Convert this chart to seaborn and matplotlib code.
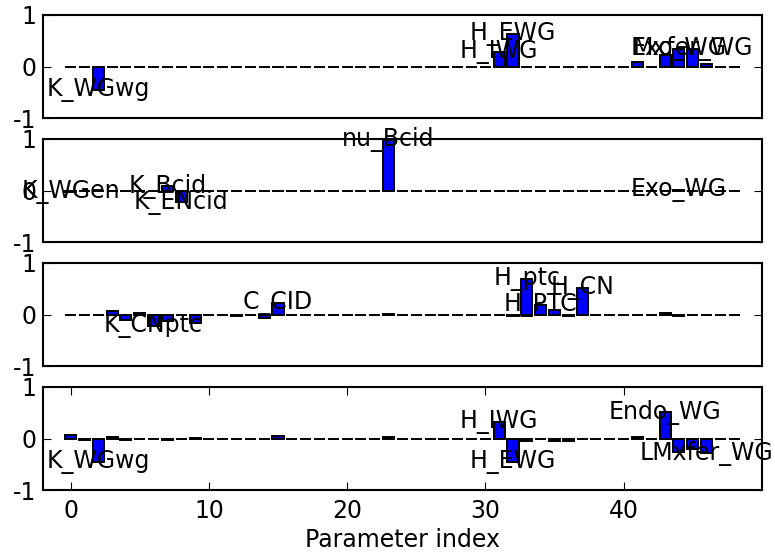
import numpy as np
import pandas as pd
import matplotlib
matplotlib.use("Agg")
import matplotlib.pyplot as plt
import seaborn as sns

# ---------------- data ----------------
param_index = list(range(49))

values_1 = [0.0, 0.0, -0.46, 0.0, 0.0, 0.0, 0.0, 0.0, 0.0, 0.0,
            0.0, 0.0, 0.0, 0.0, 0.0, 0.0, 0.0, 0.0, 0.0, 0.0,
            0.0, 0.0, 0.0, 0.0, 0.0, 0.0, 0.0, 0.0, 0.0, 0.0,
            0.0, 0.29, 0.63, 0.0, 0.0, 0.0, 0.0, 0.0, 0.0, 0.0,
            0.0, 0.09, 0.0, 0.22, 0.34, 0.34, 0.05, 0.0, 0.0]

values_2 = [-0.02, 0.0, 0.0, 0.0, 0.0, 0.0, 0.0, 0.08, -0.23, 0.0,
            0.0, 0.0, 0.0, 0.0, 0.0, 0.0, 0.0, 0.0, 0.0, 0.0,
            0.0, 0.0, 0.0, 0.98, 0.0, 0.0, 0.0, 0.0, 0.0, 0.0,
            0.0, 0.0, 0.0, 0.0, 0.0, 0.0, 0.0, 0.0, 0.0, 0.0,
            0.0, 0.0, 0.0, 0.0, 0.01, 0.0, 0.0, 0.0, 0.0]

values_3 = [0.0, 0.0, 0.0, 0.06, -0.10, 0.02, -0.23, -0.13, 0.0, -0.17,
            0.0, 0.0, -0.03, 0.0, -0.06, 0.22, 0.0, 0.0, 0.0, 0.0,
            0.0, 0.0, 0.0, 0.01, 0.0, 0.0, 0.0, 0.0, 0.0, 0.0,
            0.0, -0.01, -0.03, 0.68, 0.19, 0.08, -0.03, 0.52, 0.0, 0.0,
            0.0, 0.0, 0.0, 0.02, -0.02, 0.0, 0.0, 0.0, 0.0]

values_4 = [0.06, -0.03, -0.46, 0.02, -0.03, 0.0, 0.0, -0.02, 0.0, 0.01,
            0.0, 0.0, 0.0, 0.0, 0.0, 0.04, 0.0, 0.0, 0.0, 0.0,
            0.0, 0.0, 0.0, 0.02, 0.0, 0.0, 0.0, 0.0, 0.0, 0.0,
            0.0, 0.32, -0.46, -0.05, 0.0, -0.04, -0.04, 0.0, 0.0, 0.0,
            0.0, 0.03, 0.0, 0.51, -0.27, -0.21, -0.29, 0.0, 0.0]

label_idx_1 = [2, 31, 32, 44, 45]
label_txt_1 = ["K_WGwg", "H_IWG", "H_EWG", "Exo_WG", "Mxfer_WG"]

label_idx_2 = [0, 7, 8, 23, 44]
label_txt_2 = ["K_WGen", "K_Bcid", "K_ENcid", "nu_Bcid", "Exo_WG"]

label_idx_3 = [6, 15, 33, 34, 37]
label_txt_3 = ["K_CNptc", "C_CID", "H_ptc", "H_PTC", "H_CN"]

label_idx_4 = [2, 31, 32, 43, 46]
label_txt_4 = ["K_WGwg", "H_IWG", "H_EWG", "Endo_WG", "LMxfer_WG"]

y_ticks = [-1, 0, 1]
y_tick_labels = ["-1", "0", "1"]
x_ticks = [0, 10, 20, 30, 40]
x_label = "Parameter index"

# ---------------- style ----------------
sns.set_style("white")
plt.rcParams.update({
    "font.family": ["DejaVu Sans"],
    "axes.unicode_minus": False,
    "axes.edgecolor": "black",
    "axes.labelcolor": "black",
    "text.color": "black",
    "axes.linewidth": 1.5,
    "xtick.color": "black",
    "ytick.color": "black",
    "font.size": 17,
})

FS = 17

panels = [
    (values_1, label_idx_1, label_txt_1),
    (values_2, label_idx_2, label_txt_2),
    (values_3, label_idx_3, label_txt_3),
    (values_4, label_idx_4, label_txt_4),
]

fig, axes = plt.subplots(4, 1, figsize=(7.75, 5.52), dpi=100)
fig.subplots_adjust(left=0.0555, right=0.983, bottom=0.112, top=0.973, hspace=0.2)

for k, (ax, (vals, lidx, ltxt)) in enumerate(zip(axes, panels)):
    df = pd.DataFrame({"index": param_index, "value": vals})
    sns.barplot(data=df, x="index", y="value", ax=ax, native_scale=True,
                color="blue", saturation=1, edgecolor="black", linewidth=1.4,
                errorbar=None, width=0.8)
    ax.set_xlim(-2, 50)
    ax.set_ylim(-1, 1)
    ax.set_yticks(y_ticks)
    ax.set_yticklabels(y_tick_labels, fontsize=FS)
    ax.set_xlabel("")
    ax.set_ylabel("")
    for i, t in zip(lidx, ltxt):
        ax.text(i, vals[i], t, ha="center", va="center", fontsize=FS,
                color="black", clip_on=False, zorder=5)
    ax.tick_params(axis="y", direction="in", left=True, right=True,
                   length=6, width=0.8, pad=5)
    if k < 3:
        ax.set_xticks([])
    else:
        ax.set_xticks(x_ticks)
        ax.set_xticklabels([str(v) for v in x_ticks], fontsize=FS)
        ax.tick_params(axis="x", direction="in", bottom=True, top=True,
                       length=5.5, width=0.8, pad=6)
        ax.set_xlabel(x_label, fontsize=FS, labelpad=4, color="black")
    for s in ax.spines.values():
        s.set_visible(True)
        s.set_color("black")
        s.set_linewidth(1.5)

fig.savefig("out.png", dpi=100)
